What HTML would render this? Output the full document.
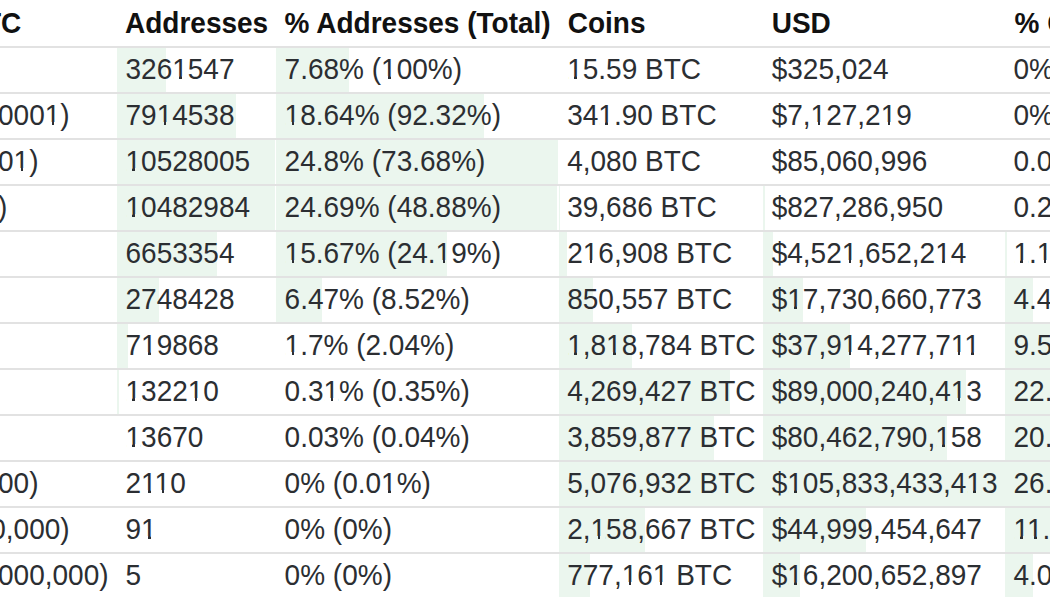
<!DOCTYPE html><html><head><meta charset="utf-8"><title>Bitcoin distribution</title><style>
html,body{margin:0;padding:0;background:#fff;}
body{width:1050px;height:600px;overflow:hidden;position:relative;font-family:"Liberation Sans",sans-serif;color:#2b2e32;}
.ln{position:absolute;left:0;width:1050px;height:2px;background:#e2e2e2;}
.g{position:absolute;background:#ebf6ee;}
.t{position:absolute;white-space:nowrap;font-size:28px;line-height:46px;height:46px;transform:scaleY(1.050);transform-origin:0 13.30px;}
.h{font-weight:bold;color:#111;transform:scaleY(1.050);transform-origin:0 12.80px;}
</style><style>i{position:absolute;display:block}</style></head><body>
<div class="t h" style="left:-159.20px;top:-0.05px;">Balance, BTC</div>
<div class="t h" style="left:125.00px;top:-0.05px;">Addresses</div>
<div class="t h" style="left:284.60px;top:-0.05px;">% Addresses (Total)</div>
<div class="t h" style="left:567.70px;top:-0.05px;">Coins</div>
<div class="t h" style="left:771.70px;top:-0.05px;">USD</div>
<div class="t h" style="left:1014.50px;top:-0.05px;">% Coins (Total)</div>
<div class="g" style="left:117.30px;top:48.00px;width:49.01px;height:44.00px;"></div>
<div class="g" style="left:276.00px;top:48.00px;width:73.00px;height:44.00px;"></div>
<div class="ln" style="top:46.00px;"></div>
<div class="t" style="left:-159.20px;top:45.74px;">[0 - 0.00001)</div>
<div class="t" style="left:125.50px;top:45.74px;">3261547</div>
<div class="t" style="left:284.60px;top:45.74px;">7.68% (100%)</div>
<div class="t" style="left:567.20px;top:45.74px;">15.59 BTC</div>
<div class="t" style="left:771.70px;top:45.74px;">$325,024</div>
<div class="t" style="left:1013.50px;top:45.74px;">0% (100%)</div>
<div class="g" style="left:117.30px;top:94.00px;width:118.93px;height:44.00px;"></div>
<div class="g" style="left:276.00px;top:94.00px;width:208.30px;height:44.00px;"></div>
<div class="ln" style="top:92.00px;"></div>
<div class="t" style="left:-159.20px;top:91.74px;">[0.00001 - 0.0001)</div>
<div class="t" style="left:125.50px;top:91.74px;">7914538</div>
<div class="t" style="left:284.60px;top:91.74px;">18.64% (92.32%)</div>
<div class="t" style="left:567.20px;top:91.74px;">341.90 BTC</div>
<div class="t" style="left:771.70px;top:91.74px;">$7,127,219</div>
<div class="t" style="left:1013.50px;top:91.74px;">0% (100%)</div>
<div class="g" style="left:117.30px;top:140.00px;width:158.20px;height:44.00px;"></div>
<div class="g" style="left:276.00px;top:140.00px;width:281.50px;height:44.00px;"></div>
<div class="ln" style="top:138.00px;"></div>
<div class="t" style="left:-159.20px;top:137.74px;">[0.0001 - 0.001)</div>
<div class="t" style="left:125.50px;top:137.74px;">10528005</div>
<div class="t" style="left:284.60px;top:137.74px;">24.8% (73.68%)</div>
<div class="t" style="left:567.20px;top:137.74px;">4,080 BTC</div>
<div class="t" style="left:771.70px;top:137.74px;">$85,060,996</div>
<div class="t" style="left:1013.50px;top:137.74px;">0.02% (100%)</div>
<div class="g" style="left:117.30px;top:186.00px;width:157.52px;height:44.00px;"></div>
<div class="g" style="left:276.00px;top:186.00px;width:281.00px;height:44.00px;"></div>
<div class="g" style="left:558.70px;top:186.00px;width:1.60px;height:44.00px;"></div>
<div class="g" style="left:762.80px;top:186.00px;width:1.89px;height:44.00px;"></div>
<div class="ln" style="top:184.00px;"></div>
<div class="t" style="left:-159.20px;top:183.74px;">[0.001 - 0.01)</div>
<div class="t" style="left:125.50px;top:183.74px;">10482984</div>
<div class="t" style="left:284.60px;top:183.74px;">24.69% (48.88%)</div>
<div class="t" style="left:567.20px;top:183.74px;">39,686 BTC</div>
<div class="t" style="left:771.70px;top:183.74px;">$827,286,950</div>
<div class="t" style="left:1013.50px;top:183.74px;">0.21% (99.98%)</div>
<div class="g" style="left:117.30px;top:232.00px;width:99.98px;height:44.00px;"></div>
<div class="g" style="left:276.00px;top:232.00px;width:170.70px;height:44.00px;"></div>
<div class="g" style="left:558.70px;top:232.00px;width:8.72px;height:44.00px;"></div>
<div class="g" style="left:762.80px;top:232.00px;width:10.35px;height:44.00px;"></div>
<div class="g" style="left:1005.00px;top:232.00px;width:1.50px;height:44.00px;"></div>
<div class="ln" style="top:230.00px;"></div>
<div class="t" style="left:-159.20px;top:229.74px;">[0.01 - 0.1)</div>
<div class="t" style="left:125.50px;top:229.74px;">6653354</div>
<div class="t" style="left:284.60px;top:229.74px;">15.67% (24.19%)</div>
<div class="t" style="left:567.20px;top:229.74px;">216,908 BTC</div>
<div class="t" style="left:771.70px;top:229.74px;">$4,521,652,214</div>
<div class="t" style="left:1013.50px;top:229.74px;">1.14% (99.77%)</div>
<div class="g" style="left:117.30px;top:278.00px;width:41.30px;height:44.00px;"></div>
<div class="g" style="left:276.00px;top:278.00px;width:46.30px;height:44.00px;"></div>
<div class="g" style="left:558.70px;top:278.00px;width:34.19px;height:44.00px;"></div>
<div class="g" style="left:762.80px;top:278.00px;width:40.58px;height:44.00px;"></div>
<div class="g" style="left:1005.00px;top:278.00px;width:27.70px;height:44.00px;"></div>
<div class="ln" style="top:276.00px;"></div>
<div class="t" style="left:-159.20px;top:275.74px;">[0.1 - 1)</div>
<div class="t" style="left:125.50px;top:275.74px;">2748428</div>
<div class="t" style="left:284.60px;top:275.74px;">6.47% (8.52%)</div>
<div class="t" style="left:567.20px;top:275.74px;">850,557 BTC</div>
<div class="t" style="left:771.70px;top:275.74px;">$17,730,660,773</div>
<div class="t" style="left:1013.50px;top:275.74px;">4.47% (98.63%)</div>
<div class="g" style="left:117.30px;top:324.00px;width:10.82px;height:44.00px;"></div>
<div class="g" style="left:558.70px;top:324.00px;width:73.12px;height:44.00px;"></div>
<div class="g" style="left:762.80px;top:324.00px;width:86.77px;height:44.00px;"></div>
<div class="g" style="left:1005.00px;top:324.00px;width:95.00px;height:44.00px;"></div>
<div class="ln" style="top:322.00px;"></div>
<div class="t" style="left:-159.20px;top:321.74px;">[1 - 10)</div>
<div class="t" style="left:125.50px;top:321.74px;">719868</div>
<div class="t" style="left:284.60px;top:321.74px;">1.7% (2.04%)</div>
<div class="t" style="left:567.20px;top:321.74px;">1,818,784 BTC</div>
<div class="t" style="left:771.70px;top:321.74px;">$37,914,277,711</div>
<div class="t" style="left:1013.50px;top:321.74px;">9.55% (94.16%)</div>
<div class="g" style="left:117.30px;top:370.00px;width:1.99px;height:44.00px;"></div>
<div class="g" style="left:558.70px;top:370.00px;width:171.64px;height:44.00px;"></div>
<div class="g" style="left:762.80px;top:370.00px;width:203.68px;height:44.00px;"></div>
<div class="g" style="left:1005.00px;top:370.00px;width:95.00px;height:44.00px;"></div>
<div class="ln" style="top:368.00px;"></div>
<div class="t" style="left:-159.20px;top:367.74px;">[10 - 100)</div>
<div class="t" style="left:125.50px;top:367.74px;">132210</div>
<div class="t" style="left:284.60px;top:367.74px;">0.31% (0.35%)</div>
<div class="t" style="left:567.20px;top:367.74px;">4,269,427 BTC</div>
<div class="t" style="left:771.70px;top:367.74px;">$89,000,240,413</div>
<div class="t" style="left:1013.50px;top:367.74px;">22.41% (84.61%)</div>
<div class="g" style="left:558.70px;top:416.00px;width:155.17px;height:44.00px;"></div>
<div class="g" style="left:762.80px;top:416.00px;width:184.14px;height:44.00px;"></div>
<div class="g" style="left:1005.00px;top:416.00px;width:95.00px;height:44.00px;"></div>
<div class="ln" style="top:414.00px;"></div>
<div class="t" style="left:-159.20px;top:413.74px;">[100 - 1,000)</div>
<div class="t" style="left:125.50px;top:413.74px;">13670</div>
<div class="t" style="left:284.60px;top:413.74px;">0.03% (0.04%)</div>
<div class="t" style="left:567.20px;top:413.74px;">3,859,877 BTC</div>
<div class="t" style="left:771.70px;top:413.74px;">$80,462,790,158</div>
<div class="t" style="left:1013.50px;top:413.74px;">20.26% (62.2%)</div>
<div class="g" style="left:558.70px;top:462.00px;width:204.10px;height:44.00px;"></div>
<div class="g" style="left:762.80px;top:462.00px;width:242.20px;height:44.00px;"></div>
<div class="g" style="left:1005.00px;top:462.00px;width:95.00px;height:44.00px;"></div>
<div class="ln" style="top:460.00px;"></div>
<div class="t" style="left:-159.20px;top:459.74px;">[1,000 - 10,000)</div>
<div class="t" style="left:125.50px;top:459.74px;">2110</div>
<div class="t" style="left:284.60px;top:459.74px;">0% (0.01%)</div>
<div class="t" style="left:567.20px;top:459.74px;">5,076,932 BTC</div>
<div class="t" style="left:771.70px;top:459.74px;">$105,833,433,413</div>
<div class="t" style="left:1013.50px;top:459.74px;">26.65% (41.94%)</div>
<div class="g" style="left:558.70px;top:508.00px;width:86.78px;height:44.00px;"></div>
<div class="g" style="left:762.80px;top:508.00px;width:102.98px;height:44.00px;"></div>
<div class="g" style="left:1005.00px;top:508.00px;width:95.00px;height:44.00px;"></div>
<div class="ln" style="top:506.00px;"></div>
<div class="t" style="left:-159.20px;top:505.74px;">[10,000 - 100,000)</div>
<div class="t" style="left:125.50px;top:505.74px;">91</div>
<div class="t" style="left:284.60px;top:505.74px;">0% (0%)</div>
<div class="t" style="left:567.20px;top:505.74px;">2,158,667 BTC</div>
<div class="t" style="left:771.70px;top:505.74px;">$44,999,454,647</div>
<div class="t" style="left:1013.50px;top:505.74px;">11.33% (15.29%)</div>
<div class="g" style="left:558.70px;top:554.00px;width:31.24px;height:43.00px;"></div>
<div class="g" style="left:762.80px;top:554.00px;width:37.08px;height:43.00px;"></div>
<div class="g" style="left:1005.00px;top:554.00px;width:27.50px;height:43.00px;"></div>
<div class="ln" style="top:552.00px;"></div>
<div class="t" style="left:-159.20px;top:551.74px;">[100,000 - 1,000,000)</div>
<div class="t" style="left:125.50px;top:551.74px;">5</div>
<div class="t" style="left:284.60px;top:551.74px;">0% (0%)</div>
<div class="t" style="left:567.20px;top:551.74px;">777,161 BTC</div>
<div class="t" style="left:771.70px;top:551.74px;">$16,200,652,897</div>
<div class="t" style="left:1013.50px;top:551.74px;">4.08% (3.96%)</div>
<i style="left:-23.93px;top:76.05px;width:5.61px;height:3.25px;background:#fff"></i>
<i style="left:-15.75px;top:76.05px;width:5.39px;height:3.25px;background:#fff"></i>
<i style="left:173.59px;top:76.05px;width:5.61px;height:3.25px;background:#fff"></i>
<i style="left:181.77px;top:76.05px;width:5.39px;height:3.25px;background:#fff"></i>
<i style="left:382.46px;top:76.05px;width:5.61px;height:3.25px;background:#fff"></i>
<i style="left:390.64px;top:76.05px;width:5.39px;height:3.25px;background:#fff"></i>
<i style="left:568.57px;top:76.05px;width:5.61px;height:3.25px;background:#fff"></i>
<i style="left:576.75px;top:76.05px;width:5.39px;height:3.25px;background:#fff"></i>
<i style="left:1072.45px;top:76.05px;width:5.61px;height:3.25px;background:#fff"></i>
<i style="left:1080.63px;top:76.05px;width:5.39px;height:3.25px;background:#fff"></i>
<i style="left:-64.40px;top:122.05px;width:5.61px;height:3.25px;background:#fff"></i>
<i style="left:-56.22px;top:122.05px;width:5.39px;height:3.25px;background:#fff"></i>
<i style="left:46.13px;top:122.05px;width:5.61px;height:3.25px;background:#fff"></i>
<i style="left:54.32px;top:122.05px;width:5.39px;height:3.25px;background:#fff"></i>
<i style="left:158.02px;top:122.05px;width:5.61px;height:3.25px;background:#ebf6ee"></i>
<i style="left:166.21px;top:122.05px;width:5.39px;height:3.25px;background:#ebf6ee"></i>
<i style="left:285.98px;top:122.05px;width:5.61px;height:3.25px;background:#ebf6ee"></i>
<i style="left:294.16px;top:122.05px;width:5.39px;height:3.25px;background:#ebf6ee"></i>
<i style="left:599.71px;top:122.05px;width:5.61px;height:3.25px;background:#fff"></i>
<i style="left:607.89px;top:122.05px;width:5.39px;height:3.25px;background:#fff"></i>
<i style="left:811.99px;top:122.05px;width:5.61px;height:3.25px;background:#fff"></i>
<i style="left:820.17px;top:122.05px;width:5.39px;height:3.25px;background:#fff"></i>
<i style="left:882.05px;top:122.05px;width:5.61px;height:3.25px;background:#fff"></i>
<i style="left:890.24px;top:122.05px;width:5.39px;height:3.25px;background:#fff"></i>
<i style="left:1072.45px;top:122.05px;width:5.61px;height:3.25px;background:#fff"></i>
<i style="left:1080.63px;top:122.05px;width:5.39px;height:3.25px;background:#fff"></i>
<i style="left:-79.96px;top:168.05px;width:5.61px;height:3.25px;background:#fff"></i>
<i style="left:-71.78px;top:168.05px;width:5.39px;height:3.25px;background:#fff"></i>
<i style="left:14.99px;top:168.05px;width:5.61px;height:3.25px;background:#fff"></i>
<i style="left:23.18px;top:168.05px;width:5.39px;height:3.25px;background:#fff"></i>
<i style="left:126.88px;top:168.05px;width:5.61px;height:3.25px;background:#ebf6ee"></i>
<i style="left:135.07px;top:168.05px;width:5.39px;height:3.25px;background:#ebf6ee"></i>
<i style="left:1111.37px;top:168.05px;width:5.61px;height:3.25px;background:#fff"></i>
<i style="left:1119.55px;top:168.05px;width:5.39px;height:3.25px;background:#fff"></i>
<i style="left:-95.54px;top:214.05px;width:5.61px;height:3.25px;background:#fff"></i>
<i style="left:-87.36px;top:214.05px;width:5.39px;height:3.25px;background:#fff"></i>
<i style="left:-16.16px;top:214.05px;width:5.61px;height:3.25px;background:#fff"></i>
<i style="left:-7.98px;top:214.05px;width:5.39px;height:3.25px;background:#fff"></i>
<i style="left:126.88px;top:214.05px;width:5.61px;height:3.25px;background:#ebf6ee"></i>
<i style="left:135.07px;top:214.05px;width:5.39px;height:3.25px;background:#ebf6ee"></i>
<i style="left:1053.80px;top:214.05px;width:5.61px;height:3.25px;background:#fff"></i>
<i style="left:1061.99px;top:214.05px;width:5.39px;height:3.25px;background:#fff"></i>
<i style="left:-111.10px;top:260.05px;width:5.61px;height:3.25px;background:#fff"></i>
<i style="left:-102.92px;top:260.05px;width:5.39px;height:3.25px;background:#fff"></i>
<i style="left:-47.30px;top:260.05px;width:5.61px;height:3.25px;background:#fff"></i>
<i style="left:-39.12px;top:260.05px;width:5.39px;height:3.25px;background:#fff"></i>
<i style="left:285.98px;top:260.05px;width:5.61px;height:3.25px;background:#ebf6ee"></i>
<i style="left:294.16px;top:260.05px;width:5.39px;height:3.25px;background:#ebf6ee"></i>
<i style="left:436.96px;top:260.05px;width:5.61px;height:3.25px;background:#ebf6ee"></i>
<i style="left:445.14px;top:260.05px;width:1.56px;height:3.25px;background:#ebf6ee"></i>
<i style="left:446.70px;top:260.05px;width:3.83px;height:3.25px;background:#fff"></i>
<i style="left:584.13px;top:260.05px;width:5.61px;height:3.25px;background:#fff"></i>
<i style="left:592.32px;top:260.05px;width:5.39px;height:3.25px;background:#fff"></i>
<i style="left:843.13px;top:260.05px;width:5.61px;height:3.25px;background:#fff"></i>
<i style="left:851.32px;top:260.05px;width:5.39px;height:3.25px;background:#fff"></i>
<i style="left:936.55px;top:260.05px;width:5.61px;height:3.25px;background:#fff"></i>
<i style="left:944.74px;top:260.05px;width:5.39px;height:3.25px;background:#fff"></i>
<i style="left:1014.88px;top:260.05px;width:5.61px;height:3.25px;background:#fff"></i>
<i style="left:1023.07px;top:260.05px;width:5.39px;height:3.25px;background:#fff"></i>
<i style="left:1038.23px;top:260.05px;width:5.61px;height:3.25px;background:#fff"></i>
<i style="left:1046.41px;top:260.05px;width:5.39px;height:3.25px;background:#fff"></i>
<i style="left:-126.68px;top:306.05px;width:5.61px;height:3.25px;background:#fff"></i>
<i style="left:-118.50px;top:306.05px;width:5.39px;height:3.25px;background:#fff"></i>
<i style="left:-86.23px;top:306.05px;width:5.61px;height:3.25px;background:#fff"></i>
<i style="left:-78.04px;top:306.05px;width:5.39px;height:3.25px;background:#fff"></i>
<i style="left:788.63px;top:306.05px;width:5.61px;height:3.25px;background:#ebf6ee"></i>
<i style="left:796.82px;top:306.05px;width:5.39px;height:3.25px;background:#ebf6ee"></i>
<i style="left:-150.04px;top:352.05px;width:5.61px;height:3.25px;background:#fff"></i>
<i style="left:-141.86px;top:352.05px;width:5.39px;height:3.25px;background:#fff"></i>
<i style="left:-109.57px;top:352.05px;width:5.61px;height:3.25px;background:#fff"></i>
<i style="left:-101.39px;top:352.05px;width:5.39px;height:3.25px;background:#fff"></i>
<i style="left:142.45px;top:352.05px;width:5.61px;height:3.25px;background:#fff"></i>
<i style="left:150.63px;top:352.05px;width:5.39px;height:3.25px;background:#fff"></i>
<i style="left:285.98px;top:352.05px;width:5.61px;height:3.25px;background:#fff"></i>
<i style="left:294.16px;top:352.05px;width:5.39px;height:3.25px;background:#fff"></i>
<i style="left:568.57px;top:352.05px;width:5.61px;height:3.25px;background:#ebf6ee"></i>
<i style="left:576.75px;top:352.05px;width:5.39px;height:3.25px;background:#ebf6ee"></i>
<i style="left:607.49px;top:352.05px;width:5.61px;height:3.25px;background:#ebf6ee"></i>
<i style="left:615.67px;top:352.05px;width:5.39px;height:3.25px;background:#ebf6ee"></i>
<i style="left:843.13px;top:352.05px;width:5.61px;height:3.25px;background:#ebf6ee"></i>
<i style="left:851.32px;top:352.05px;width:5.39px;height:3.25px;background:#fff"></i>
<i style="left:952.12px;top:352.05px;width:5.61px;height:3.25px;background:#fff"></i>
<i style="left:960.30px;top:352.05px;width:5.39px;height:3.25px;background:#fff"></i>
<i style="left:965.62px;top:352.05px;width:5.61px;height:3.25px;background:#fff"></i>
<i style="left:973.80px;top:352.05px;width:5.39px;height:3.25px;background:#fff"></i>
<i style="left:1150.29px;top:352.05px;width:5.61px;height:3.25px;background:#fff"></i>
<i style="left:1158.47px;top:352.05px;width:5.39px;height:3.25px;background:#fff"></i>
<i style="left:-150.04px;top:398.05px;width:5.61px;height:3.25px;background:#fff"></i>
<i style="left:-141.86px;top:398.05px;width:5.39px;height:3.25px;background:#fff"></i>
<i style="left:-94.01px;top:398.05px;width:5.61px;height:3.25px;background:#fff"></i>
<i style="left:-85.83px;top:398.05px;width:5.39px;height:3.25px;background:#fff"></i>
<i style="left:126.88px;top:398.05px;width:5.61px;height:3.25px;background:#fff"></i>
<i style="left:135.07px;top:398.05px;width:5.39px;height:3.25px;background:#fff"></i>
<i style="left:189.16px;top:398.05px;width:5.61px;height:3.25px;background:#fff"></i>
<i style="left:197.35px;top:398.05px;width:5.39px;height:3.25px;background:#fff"></i>
<i style="left:324.90px;top:398.05px;width:5.61px;height:3.25px;background:#fff"></i>
<i style="left:333.08px;top:398.05px;width:5.39px;height:3.25px;background:#fff"></i>
<i style="left:952.12px;top:398.05px;width:5.61px;height:3.25px;background:#ebf6ee"></i>
<i style="left:960.30px;top:398.05px;width:5.39px;height:3.25px;background:#ebf6ee"></i>
<i style="left:1069.37px;top:398.05px;width:5.61px;height:3.25px;background:#ebf6ee"></i>
<i style="left:1077.55px;top:398.05px;width:5.39px;height:3.25px;background:#ebf6ee"></i>
<i style="left:1181.45px;top:398.05px;width:5.61px;height:3.25px;background:#fff"></i>
<i style="left:1189.63px;top:398.05px;width:5.39px;height:3.25px;background:#fff"></i>
<i style="left:-150.04px;top:444.05px;width:5.61px;height:3.25px;background:#fff"></i>
<i style="left:-141.86px;top:444.05px;width:5.39px;height:3.25px;background:#fff"></i>
<i style="left:-78.43px;top:444.05px;width:5.61px;height:3.25px;background:#fff"></i>
<i style="left:-70.25px;top:444.05px;width:5.39px;height:3.25px;background:#fff"></i>
<i style="left:126.88px;top:444.05px;width:5.61px;height:3.25px;background:#fff"></i>
<i style="left:135.07px;top:444.05px;width:5.39px;height:3.25px;background:#fff"></i>
<i style="left:936.55px;top:444.05px;width:5.61px;height:3.25px;background:#ebf6ee"></i>
<i style="left:944.74px;top:444.05px;width:2.20px;height:3.25px;background:#ebf6ee"></i>
<i style="left:946.94px;top:444.05px;width:3.19px;height:3.25px;background:#fff"></i>
<i style="left:-150.04px;top:490.05px;width:5.61px;height:3.25px;background:#fff"></i>
<i style="left:-141.86px;top:490.05px;width:5.39px;height:3.25px;background:#fff"></i>
<i style="left:-55.09px;top:490.05px;width:5.61px;height:3.25px;background:#fff"></i>
<i style="left:-46.90px;top:490.05px;width:5.39px;height:3.25px;background:#fff"></i>
<i style="left:142.45px;top:490.05px;width:5.61px;height:3.25px;background:#fff"></i>
<i style="left:150.63px;top:490.05px;width:5.39px;height:3.25px;background:#fff"></i>
<i style="left:155.95px;top:490.05px;width:5.61px;height:3.25px;background:#fff"></i>
<i style="left:164.13px;top:490.05px;width:5.39px;height:3.25px;background:#fff"></i>
<i style="left:382.46px;top:490.05px;width:5.61px;height:3.25px;background:#fff"></i>
<i style="left:390.64px;top:490.05px;width:5.39px;height:3.25px;background:#fff"></i>
<i style="left:788.63px;top:490.05px;width:5.61px;height:3.25px;background:#ebf6ee"></i>
<i style="left:796.82px;top:490.05px;width:5.39px;height:3.25px;background:#ebf6ee"></i>
<i style="left:967.70px;top:490.05px;width:5.61px;height:3.25px;background:#ebf6ee"></i>
<i style="left:975.88px;top:490.05px;width:5.39px;height:3.25px;background:#ebf6ee"></i>
<i style="left:1142.52px;top:490.05px;width:5.61px;height:3.25px;background:#fff"></i>
<i style="left:1150.71px;top:490.05px;width:5.39px;height:3.25px;background:#fff"></i>
<i style="left:-150.04px;top:536.05px;width:5.61px;height:3.25px;background:#fff"></i>
<i style="left:-141.86px;top:536.05px;width:5.39px;height:3.25px;background:#fff"></i>
<i style="left:-39.51px;top:536.05px;width:5.61px;height:3.25px;background:#fff"></i>
<i style="left:-31.32px;top:536.05px;width:5.39px;height:3.25px;background:#fff"></i>
<i style="left:142.45px;top:536.05px;width:5.61px;height:3.25px;background:#fff"></i>
<i style="left:150.63px;top:536.05px;width:5.39px;height:3.25px;background:#fff"></i>
<i style="left:591.91px;top:536.05px;width:5.61px;height:3.25px;background:#ebf6ee"></i>
<i style="left:600.10px;top:536.05px;width:5.39px;height:3.25px;background:#ebf6ee"></i>
<i style="left:1014.88px;top:536.05px;width:5.61px;height:3.25px;background:#ebf6ee"></i>
<i style="left:1023.07px;top:536.05px;width:5.39px;height:3.25px;background:#ebf6ee"></i>
<i style="left:1028.37px;top:536.05px;width:5.61px;height:3.25px;background:#ebf6ee"></i>
<i style="left:1036.55px;top:536.05px;width:5.39px;height:3.25px;background:#ebf6ee"></i>
<i style="left:1124.87px;top:536.05px;width:5.61px;height:3.25px;background:#fff"></i>
<i style="left:1133.05px;top:536.05px;width:5.39px;height:3.25px;background:#fff"></i>
<i style="left:-150.04px;top:582.05px;width:5.61px;height:3.25px;background:#fff"></i>
<i style="left:-141.86px;top:582.05px;width:5.39px;height:3.25px;background:#fff"></i>
<i style="left:-23.93px;top:582.05px;width:5.61px;height:3.25px;background:#fff"></i>
<i style="left:-15.75px;top:582.05px;width:5.39px;height:3.25px;background:#fff"></i>
<i style="left:623.05px;top:582.05px;width:5.61px;height:3.25px;background:#fff"></i>
<i style="left:631.24px;top:582.05px;width:5.39px;height:3.25px;background:#fff"></i>
<i style="left:654.21px;top:582.05px;width:5.61px;height:3.25px;background:#fff"></i>
<i style="left:662.39px;top:582.05px;width:5.39px;height:3.25px;background:#fff"></i>
<i style="left:788.63px;top:582.05px;width:5.61px;height:3.25px;background:#ebf6ee"></i>
<i style="left:796.82px;top:582.05px;width:3.06px;height:3.25px;background:#ebf6ee"></i>
<i style="left:799.88px;top:582.05px;width:2.33px;height:3.25px;background:#fff"></i>
</body></html>
